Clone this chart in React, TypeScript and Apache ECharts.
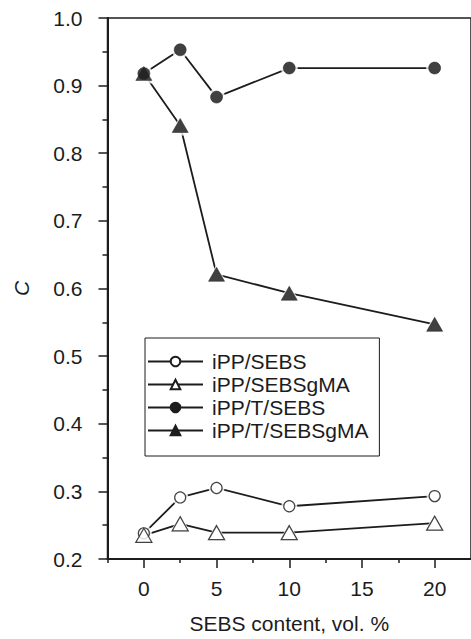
import React, { useEffect, useRef } from "react";
import * as echarts from "echarts";

const xValues = [0, 2.5, 5, 10, 20];
const seriesNames = ["iPP/SEBS", "iPP/SEBSgMA", "iPP/T/SEBS", "iPP/T/SEBSgMA"];
const ippSebs = [0.238, 0.291, 0.305, 0.278, 0.293];
const ippSebsgma = [0.235, 0.252, 0.239, 0.239, 0.253];
const ippTSebs = [0.918, 0.953, 0.883, 0.926, 0.926];
const ippTSebsgma = [0.918, 0.841, 0.621, 0.593, 0.547];
const xMajorTicks = [0, 5, 10, 15, 20];
const xMinorTicks = [-2.5, 2.5, 7.5, 12.5, 17.5];

const FONT = "'Liberation Sans', Arial, Helvetica, sans-serif";
const INK = "#1c1c1c";

export default function App() {
  const ref = useRef<HTMLDivElement>(null);
  useEffect(() => {
    if (!ref.current) return;
    const chart = echarts.init(ref.current, null, { renderer: "svg" });
    const values = [ippSebs, ippSebsgma, ippTSebs, ippTSebsgma];
    const symbols = ["circle", "triangle", "circle", "triangle"];
    const filled = [false, false, true, true];
    const sizes: any[] = [11, [16, 14], 12, [16, 14]];
    const haloSizes: any[] = [16, [22, 20], 17, [22, 20]];

    const series: any[] = [];
    values.forEach((vals, i) => {
      const data = xValues.map((x, j) => [x, vals[j]]);
      const itemStyle = filled[i]
        ? { color: INK, borderColor: INK, borderWidth: 0.5 }
        : { color: "#ffffff", borderColor: INK, borderWidth: 1.2 };
      series.push({
        name: seriesNames[i],
        type: "line",
        data,
        z: 2,
        symbol: symbols[i],
        symbolSize: sizes[i],
        showSymbol: true,
        lineStyle: { color: INK, width: 1.8 },
        itemStyle,
      });
      series.push({
        name: "halo" + i,
        type: "scatter",
        data,
        z: 3,
        symbol: symbols[i],
        symbolSize: haloSizes[i],
        itemStyle: { color: "#ffffff" },
        silent: true,
      });
      series.push({
        name: "mark" + i,
        type: "scatter",
        data,
        z: 4,
        symbol: symbols[i],
        symbolSize: sizes[i],
        itemStyle,
        silent: true,
      });
    });

    chart.setOption({
      animation: false,
      textStyle: { fontFamily: FONT },
      grid: {
        left: 107.5,
        top: 18,
        width: 370,
        height: 545,
        show: true,
        borderColor: INK,
        borderWidth: 1.5,
        backgroundColor: "transparent",
      },
      legend: {
        data: seriesNames,
        orient: "vertical",
        left: 145,
        top: 338,
        itemWidth: 55,
        itemHeight: 12,
        itemGap: 2,
        padding: [13, 11, 15, 2],
        borderColor: INK,
        borderWidth: 1,
        backgroundColor: "#ffffff",
        textStyle: { fontSize: 21, color: INK, fontFamily: FONT, padding: [0, 0, 0, 4] },
      },
      xAxis: [
        {
          type: "value",
          min: -2.5,
          max: 22.5,
          position: "bottom",
          name: "SEBS content, vol. %",
          nameLocation: "middle",
          nameGap: 54,
          nameTextStyle: { fontSize: 21, color: INK, fontFamily: FONT },
          axisLine: { show: true, onZero: false, lineStyle: { color: INK, width: 2 } },
          axisTick: { show: true, customValues: xMajorTicks, length: 9, inside: false, lineStyle: { color: INK, width: 1.5 } },
          axisLabel: { show: true, customValues: xMajorTicks, fontSize: 21, color: INK, margin: 19, fontFamily: FONT },
          splitLine: { show: false },
        },
        {
          type: "value",
          min: -2.5,
          max: 22.5,
          position: "bottom",
          axisLine: { show: false, onZero: false },
          axisTick: { show: true, customValues: xMinorTicks, length: 4, inside: false, lineStyle: { color: INK, width: 1.5 } },
          axisLabel: { show: false },
          splitLine: { show: false },
        },
      ],
      yAxis: {
        type: "value",
        min: 0.2,
        max: 1.0,
        interval: 0.1,
        name: "C",
        nameLocation: "middle",
        nameRotate: 90,
        nameGap: 76,
        nameTextStyle: { fontSize: 21, color: INK, fontStyle: "italic", fontFamily: FONT },
        axisLine: { show: true, onZero: false, lineStyle: { color: INK, width: 2 } },
        axisTick: { show: true, length: 9, inside: false, lineStyle: { color: INK, width: 1.5 } },
        minorTick: { show: true, splitNumber: 2, length: 5, lineStyle: { color: INK, width: 1.5 } },
        axisLabel: {
          fontSize: 21,
          color: INK,
          margin: 25,
          fontFamily: FONT,
          formatter: (v: number) => v.toFixed(1),
        },
        splitLine: { show: false },
      },
      series,
    });
    return () => chart.dispose();
  }, []);
  return (
    <div
      ref={ref}
      style={{ position: "fixed", left: 0, top: 0, width: 471, height: 639, background: "#fff" }}
    />
  );
}
